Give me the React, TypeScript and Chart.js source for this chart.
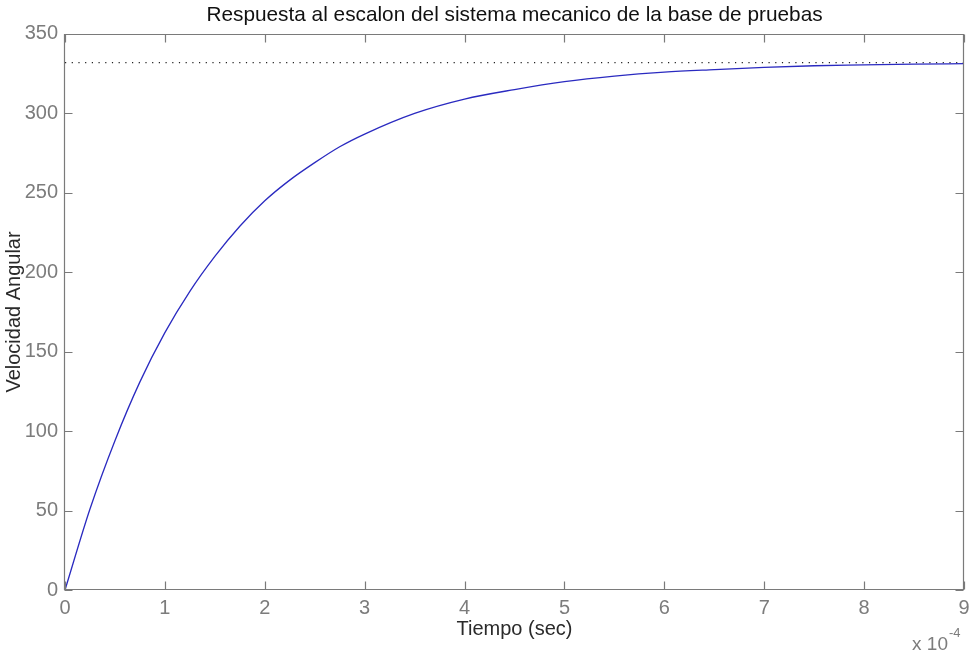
import { useEffect, useRef } from 'react';
import { Chart, registerables } from 'chart.js';

Chart.register(...registerables);

const TITLE = 'Respuesta al escalon del sistema mecanico de la base de pruebas';
const X_LABEL = 'Tiempo (sec)';
const Y_LABEL = 'Velocidad Angular';
const EXP_BASE = 'x 10';
const EXP_POWER = '-4';

// time in units of 1e-4 s
const timeValues = [0, 0.25, 0.5, 0.75, 1, 1.25, 1.5, 1.75, 2, 2.25, 2.5, 2.75, 3, 3.5, 4, 4.5, 5, 5.5, 6, 6.5, 7, 7.5, 8, 8.5, 9];
const speedValues = [0, 51, 94, 131, 162, 188, 210, 229, 245, 258, 269, 279, 287, 300, 309, 315, 320, 323.5, 326, 327.6, 329, 330, 330.5, 331, 331.3];
const steadyTimes = [0, 9];
const steadyValue = 332;
const xTicks = [0, 1, 2, 3, 4, 5, 6, 7, 8, 9];
const yTicks = [0, 50, 100, 150, 200, 250, 300, 350];

const FONT = '"Liberation Sans", Arial, sans-serif';
const AXIS_COLOR = '#7a7a7a';
const TICK_TEXT = '#7c7c7c';

const matlabAxes = {
  id: 'matlabAxes',
  afterDatasetsDraw(chart: any) {
    const { ctx, chartArea: a, scales } = chart;
    const x = scales.x;
    const y = scales.y;
    const L = Math.round(a.left) - 0.5;
    const R = Math.round(a.right) - 0.5;
    const T = Math.round(a.top) + 0.5;
    const B = Math.round(a.bottom) - 0.5;
    ctx.save();
    ctx.strokeStyle = AXIS_COLOR;
    ctx.lineWidth = 1.2;
    ctx.beginPath();
    ctx.moveTo(L, T);
    ctx.lineTo(R, T);
    ctx.lineTo(R, B);
    ctx.lineTo(L, B);
    ctx.closePath();
    const tl = 8;
    xTicks.forEach((v) => {
      const px = Math.round(x.getPixelForValue(v)) + 0.5;
      ctx.moveTo(px, B);
      ctx.lineTo(px, B - tl);
      ctx.moveTo(px, T);
      ctx.lineTo(px, T + tl);
    });
    yTicks.forEach((v) => {
      const py = Math.round(y.getPixelForValue(v)) + 0.5;
      ctx.moveTo(L, py);
      ctx.lineTo(L + tl, py);
      ctx.moveTo(R, py);
      ctx.lineTo(R - tl, py);
    });
    ctx.stroke();
    ctx.restore();
  },
  afterDraw(chart: any) {
    const { ctx, chartArea: a } = chart;
    ctx.save();
    ctx.fillStyle = TICK_TEXT;
    ctx.textBaseline = 'alphabetic';
    ctx.font = `19px ${FONT}`;
    ctx.textAlign = 'right';
    const baseRight = a.right - 16;
    ctx.fillText(EXP_BASE, baseRight, 650);
    ctx.font = `13px ${FONT}`;
    ctx.textAlign = 'left';
    ctx.fillText(EXP_POWER, baseRight + 1, 637);
    ctx.restore();
  },
};

export default function App() {
  const ref = useRef<HTMLCanvasElement>(null);
  useEffect(() => {
    document.body.style.margin = '0';
    const canvas = ref.current!;
    const chart = new Chart(canvas, {
      type: 'line',
      data: {
        datasets: [
          {
            label: 'Respuesta',
            data: timeValues.map((t, i) => ({ x: t, y: speedValues[i] })),
            borderColor: '#2a2ac0',
            borderWidth: 1.3,
            pointRadius: 0,
            cubicInterpolationMode: 'monotone',
            fill: false,
          },
          {
            label: 'Valor final',
            data: steadyTimes.map((t) => ({ x: t, y: steadyValue })),
            borderColor: '#222222',
            borderWidth: 1.2,
            borderDash: [1.2, 5.5],
            pointRadius: 0,
            fill: false,
          },
        ],
      },
      options: {
        animation: false,
        responsive: false,
        layout: { padding: { left: 0, right: 5, top: 0, bottom: 0 } },
        plugins: {
          legend: { display: false },
          tooltip: { enabled: false },
          title: {
            display: true,
            text: TITLE,
            color: '#111111',
            fullSize: false,
            font: { family: FONT, size: 20.8, weight: 'normal' },
            padding: { top: 3, bottom: 6 },
          },
        },
        scales: {
          x: {
            type: 'linear',
            min: 0,
            max: 9,
            afterBuildTicks: (s: any) => {
              s.ticks = xTicks.map((v) => ({ value: v }));
            },
            afterFit: (s: any) => {
              s.height = 66;
              s.paddingLeft = 0;
              s.paddingRight = 0;
            },
            grid: { display: false, drawTicks: false },
            border: { display: false },
            ticks: {
              color: TICK_TEXT,
              font: { family: FONT, size: 20 },
              padding: 6,
              maxRotation: 0,
              autoSkip: false,
            },
            title: {
              display: true,
              text: X_LABEL,
              color: '#2a2a2a',
              font: { family: FONT, size: 20 },
              padding: { top: 0, bottom: 15 },
            },
          },
          y: {
            type: 'linear',
            min: 0,
            max: 350,
            afterBuildTicks: (s: any) => {
              s.ticks = yTicks.map((v) => ({ value: v }));
            },
            afterFit: (s: any) => {
              s.width = 65;
              s.paddingTop = 0;
              s.paddingBottom = 0;
            },
            grid: { display: false, drawTicks: false },
            border: { display: false },
            ticks: {
              color: TICK_TEXT,
              font: { family: FONT, size: 20 },
              padding: 7,
              autoSkip: false,
            },
            title: {
              display: true,
              text: Y_LABEL,
              color: '#2a2a2a',
              font: { family: FONT, size: 20 },
              padding: { top: 2, bottom: 0 },
            },
          },
        },
      },
      plugins: [matlabAxes],
    } as any);
    return () => chart.destroy();
  }, []);
  return (
    <div style={{ position: 'absolute', left: 0, top: 0, width: 969, height: 656, background: '#ffffff' }}>
      <canvas ref={ref} width={969} height={656} style={{ display: 'block', width: 969, height: 656 }} />
    </div>
  );
}
